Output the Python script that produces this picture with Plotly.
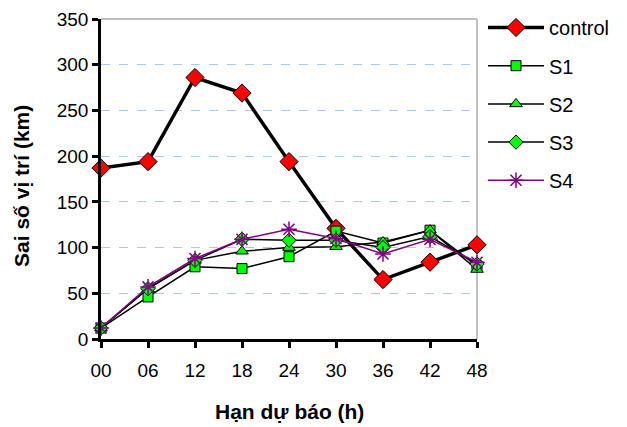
import plotly.graph_objects as go

hours = ["00", "06", "12", "18", "24", "30", "36", "42", "48"]
control = [187, 194, 286, 269, 194, 121, 65, 84, 103]
s1 = [12, 46, 79, 77, 90, 118, 105, 119, 80]
s2 = [12, 55, 86, 96, 100, 101, 106, 119, 76]
s3 = [12, 55, 86, 109, 108, 108, 100, 112, 82]
s4 = [12, 57, 88, 109, 120, 110, 93, 109, 84]
y_ticks = [0, 50, 100, 150, 200, 250, 300, 350]

xs = list(range(len(hours)))

fig = go.Figure()
series = [
    ("control", control, dict(color="black", width=3.5), dict(symbol="diamond", size=14, color="#ff0000", line=dict(color="black", width=1))),
    ("S1", s1, dict(color="black", width=1.5), dict(symbol="square", size=10, color="#00ff00", line=dict(color="black", width=1))),
    ("S2", s2, dict(color="black", width=1.5), dict(symbol="triangle-up", size=11, color="#00ff00", line=dict(color="black", width=1))),
    ("S3", s3, dict(color="black", width=1.5), dict(symbol="diamond", size=11, color="#00ff00", line=dict(color="black", width=1))),
    ("S4", s4, dict(color="#800080", width=1.5), dict(symbol="asterisk-open", size=13, color="#800080", line=dict(color="#800080", width=1.5))),
]
for name, vals, ln, mk in series:
    fig.add_trace(go.Scatter(x=xs, y=vals, name=name, mode="lines+markers",
                             line=ln, marker=mk, cliponaxis=False, legendgroup=name))

fig.update_layout(
    width=619, height=419,
    margin=dict(l=93, r=150, t=11, b=88, autoexpand=False),
    plot_bgcolor="white", paper_bgcolor="white",
    font=dict(family="Liberation Sans, Arial, sans-serif", size=19, color="black"),
    showlegend=True,
    legend=dict(x=1.016, y=1.0, yref="container", xanchor="left", yanchor="top",
                font=dict(size=20), tracegroupgap=9.2, traceorder="grouped",
                itemwidth=56, bgcolor="rgba(0,0,0,0)"),
    xaxis=dict(range=[0, 8], tickvals=xs, ticktext=hours, showgrid=False,
               showline=True, linecolor="black", linewidth=2.5,
               ticks="outside", ticklen=6, tickwidth=2.5, tickcolor="black",
               ticklabelstandoff=6,
               zeroline=False, fixedrange=True, automargin=False),
    yaxis=dict(range=[0, 350], tickvals=y_ticks, showgrid=True,
               gridcolor="#a6caf0", griddash="dash", gridwidth=1,
               showline=True, linecolor="black", linewidth=2.5,
               ticks="outside", ticklen=6, tickwidth=2.5, tickcolor="black",
               zeroline=False, fixedrange=True, automargin=False),
    shapes=[
        dict(type="line", xref="paper", yref="paper", x0=0, x1=1, y0=1, y1=1,
             line=dict(color="#c0c0c0", width=2), layer="below"),
        dict(type="line", xref="paper", yref="paper", x0=1, x1=1, y0=0, y1=1,
             line=dict(color="#c0c0c0", width=2), layer="below"),
    ],
    annotations=[
        dict(text="<b>Hạn dự báo (h)</b>", xref="paper", yref="paper",
             x=0.5, y=-0.225, yanchor="middle", xanchor="center",
             showarrow=False, font=dict(size=21)),
        dict(text="<b>Sai số vị trí (km)</b>", xref="paper", yref="paper",
             x=-0.213, y=0.478, xanchor="center", yanchor="middle", textangle=-90,
             showarrow=False, font=dict(size=21)),
    ],
)

fig.write_html("out.html")
